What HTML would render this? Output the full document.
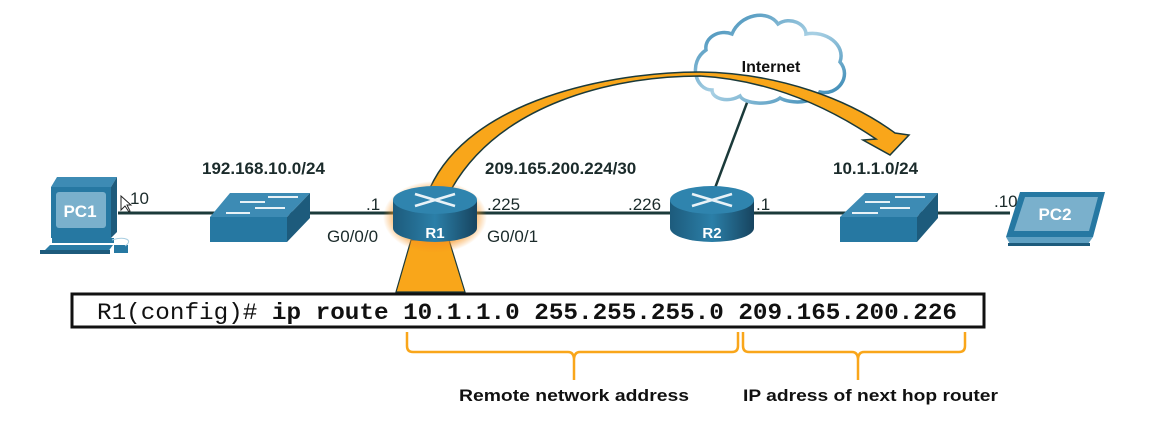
<!DOCTYPE html>
<html><head><meta charset="utf-8"><style>
html,body{margin:0;padding:0;background:#fff;}
svg{display:block}
text{font-family:"Liberation Sans",Arial,sans-serif;}
</style></head><body>
<svg width="1149" height="434" viewBox="0 0 1149 434" xmlns="http://www.w3.org/2000/svg">
<defs>
<radialGradient id="glow" cx="50%" cy="50%" r="50%">
<stop offset="70%" stop-color="#f7931e" stop-opacity="0.8"/>
<stop offset="100%" stop-color="#f7931e" stop-opacity="0"/>
</radialGradient>
<linearGradient id="rb" x1="0" x2="1" y1="0" y2="0">
<stop offset="0" stop-color="#1d5b7c"/><stop offset="0.5" stop-color="#2b7fa8"/><stop offset="1" stop-color="#17445f"/>
</linearGradient>
<linearGradient id="cl" x1="0" x2="1" y1="0" y2="1">
<stop offset="0" stop-color="#2e82b0"/><stop offset="0.5" stop-color="#a8d0e4"/><stop offset="1" stop-color="#2e82b0"/>
</linearGradient>
</defs>

<line x1="118" y1="213" x2="1010" y2="213" stroke="#1b3a3a" stroke-width="3"/>
<line x1="715" y1="188" x2="748" y2="100" stroke="#1b3a3a" stroke-width="2.5"/>

<path d="M712 90 C695 90 688 62 706 50 C704 37 720 29 732 34 C740 14 768 9 778 24 C790 16 806 24 806 34 C826 30 846 45 840 62 C852 76 838 96 820 92 C815 104 790 104 780 98 C770 106 744 104 740 96 C728 103 712 99 712 90 Z" fill="#fff" stroke="url(#cl)" stroke-width="3.5"/>
<text x="771" y="72" font-size="16" font-weight="bold" text-anchor="middle" fill="#111">Internet</text>

<path d="M430 188 C470 100 610 72 700 72 C780 73 850 100 895 133 L909 135 L890 155 L863 140 L876 139 C830 108 770 80 700 76 C610 76 500 105 452 188 Z" fill="#f9a61a" stroke="#1b3a3a" stroke-width="1.5"/>

<path d="M411 240 L449 240 L465 292 L396 292 Z" fill="#f9a61a" stroke="#1b3a3a" stroke-width="1.2"/>

<g>
<path d="M51 187 L57 177 L117 177 L111 187 Z" fill="#3d8bb4"/>
<path d="M111 187 L117 177 L117 232 L111 238 Z" fill="#1d5b7c"/>
<rect x="51" y="187" width="60" height="51" fill="#2678a2"/>
<rect x="56" y="192" width="50" height="36" rx="3" fill="#7ab0cc"/>
<text x="80" y="217" font-size="17" font-weight="bold" fill="#fff" text-anchor="middle">PC1</text>
<rect x="52" y="238" width="62" height="5" fill="#2678a2"/>
<path d="M42 253 L50 245 L113 245 L107 253 Z" fill="#2a7ca6"/>
<rect x="40" y="250" width="70" height="4" fill="#1d5b7c"/>
<rect x="114" y="245" width="14" height="8" fill="#2678a2"/>
<path d="M112 240 C125 236 134 240 125 246" fill="none" stroke="#a8cde0" stroke-width="1"/>
</g>
<text x="130" y="204" font-size="17" fill="#1b2b2b">10</text>
<path d="M121 196 L121 210 L125 206 L129 212 L130 211 L127 205 L131 205 Z" fill="#fff" stroke="#222" stroke-width="1"/>

<g>
<path d="M210 217 L230 193 L310 193 L287 217 Z" fill="#3d8bb4"/>
<path d="M287 217 L310 193 L310 218 L287 242 Z" fill="#1d5b7c"/>
<rect x="210" y="217" width="77" height="25" fill="#2678a2"/>
<g stroke="#e8f2f7" stroke-width="2"><line x1="240" y1="202" x2="265" y2="202"/><line x1="255" y1="208" x2="285" y2="208"/><line x1="226" y1="213" x2="250" y2="213"/><line x1="268" y1="197" x2="298" y2="197"/></g>
</g>

<g>
<path d="M840 217 L865 193 L938 193 L917 217 Z" fill="#3d8bb4"/>
<path d="M917 217 L938 193 L938 218 L917 242 Z" fill="#1d5b7c"/>
<rect x="840" y="217" width="77" height="25" fill="#2678a2"/>
<g stroke="#e8f2f7" stroke-width="2"><line x1="865" y1="202" x2="890" y2="202"/><line x1="880" y1="208" x2="910" y2="208"/><line x1="852" y1="213" x2="878" y2="213"/><line x1="895" y1="197" x2="925" y2="197"/></g>
</g>

<g>
<path d="M1020 192 L1105 192 L1093 237 L1006 237 Z" fill="#2678a2"/>
<path d="M1025 197 L1098 197 L1089 231 L1014 231 Z" fill="#7ab0cc"/>
<text x="1055" y="220" font-size="17" font-weight="bold" fill="#fff" text-anchor="middle">PC2</text>
<path d="M1006 237 L1093 237 L1088 244 L1010 244 Z" fill="#5fa0c2"/>
<rect x="1008" y="243" width="82" height="3" fill="#1d5b7c"/>
</g>

<ellipse cx="435" cy="217" rx="52" ry="36" fill="url(#glow)"/>
<path d="M393 200 L393 228 A42 14 0 0 0 477 228 L477 200 Z" fill="url(#rb)"/>
<ellipse cx="435" cy="200" rx="42" ry="14" fill="#2f84ae"/>
<g stroke="#e8f2f7" stroke-width="2.5"><line x1="415" y1="194" x2="455" y2="206"/><line x1="455" y1="194" x2="415" y2="206"/></g>
<text x="435" y="238" font-size="15" font-weight="bold" fill="#fff" text-anchor="middle">R1</text>

<path d="M670 200 L670 228 A42 14 0 0 0 754 228 L754 200 Z" fill="url(#rb)"/>
<ellipse cx="712" cy="200" rx="42" ry="14" fill="#2f84ae"/>
<g stroke="#e8f2f7" stroke-width="2.5"><line x1="692" y1="194" x2="732" y2="206"/><line x1="732" y1="194" x2="692" y2="206"/></g>
<text x="712" y="238" font-size="15" font-weight="bold" fill="#fff" text-anchor="middle">R2</text>

<g font-size="17" font-weight="bold" fill="#1b2b2b">
<text x="202" y="174">192.168.10.0/24</text>
<text x="485" y="174">209.165.200.224/30</text>
<text x="833" y="174">10.1.1.0/24</text>
</g>
<g font-size="17" fill="#1b2b2b">
<text x="366" y="210">.1</text>
<text x="327" y="242">G0/0/0</text>
<text x="487" y="210">.225</text>
<text x="487" y="242">G0/0/1</text>
<text x="628" y="210">.226</text>
<text x="756" y="210">.1</text>
<text x="994" y="207">.10</text>
</g>

<rect x="72" y="294" width="912" height="33" fill="#fff" stroke="#111" stroke-width="3"/>
<text x="97" y="319" font-size="23.5" fill="#111" textLength="860" lengthAdjust="spacingAndGlyphs" style="font-family:'Liberation Mono',monospace">R1(config)# <tspan font-weight="bold">ip route 10.1.1.0 255.255.255.0 209.165.200.226</tspan></text>

<g fill="none" stroke="#f9a61a" stroke-width="2.5">
<path d="M407 332 L407 346 Q407 352 413 352 L568 352 Q574 352 574 360 L574 380 M574 360 Q574 352 580 352 L732 352 Q738 352 738 346 L738 332"/>
<path d="M743 332 L743 346 Q743 352 749 352 L852 352 Q858 352 858 360 L858 380 M858 360 Q858 352 864 352 L959 352 Q965 352 965 346 L965 332"/>
</g>
<g font-size="17" font-weight="bold" fill="#111">
<text x="574" y="401" text-anchor="middle" textLength="230" lengthAdjust="spacingAndGlyphs">Remote network address</text>
<text x="743" y="401" textLength="255" lengthAdjust="spacingAndGlyphs">IP adress of next hop router</text>
</g>
</svg>
</body></html>
